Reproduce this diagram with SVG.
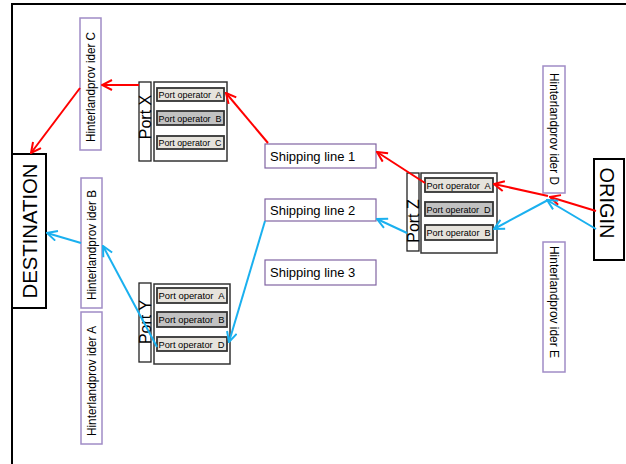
<svg xmlns="http://www.w3.org/2000/svg" width="626" height="464" viewBox="0 0 626 464">
<defs>
<marker id="ar" viewBox="0 0 12 12" refX="11" refY="6" markerWidth="12" markerHeight="12" markerUnits="userSpaceOnUse" orient="auto"><polyline points="1,1 11,6 1,11" fill="none" stroke="#ff0000" stroke-width="2"/></marker>
<marker id="ab" viewBox="0 0 12 12" refX="11" refY="6" markerWidth="12" markerHeight="12" markerUnits="userSpaceOnUse" orient="auto"><polyline points="1,1 11,6 1,11" fill="none" stroke="#1ab0ef" stroke-width="2"/></marker>
</defs>
<style>
text{font-family:"Liberation Sans",Arial,sans-serif;fill:#000}
.hp{fill:#fff;stroke:#a08cc6;stroke-width:1.5}
.ht{font-size:12px}
.sl{fill:#fff;stroke:#8064a2;stroke-width:1.2}
.st{font-size:13px}
.pn{fill:#fff;stroke:#222;stroke-width:1.3}
.pw{fill:#fff;stroke:#333;stroke-width:1.5}
.ol{fill:#e6e3dc;stroke:#333;stroke-width:1.8}
.od{fill:#c2c2c2;stroke:#333;stroke-width:1.8}
.ot{font-size:9.5px;white-space:pre}
.pt{font-size:16px}
.end{fill:#fff;stroke:#000;stroke-width:2}
.r{stroke:#ff0000;stroke-width:2;fill:none;marker-end:url(#ar)}
.b{stroke:#1ab0ef;stroke-width:2;fill:none;marker-end:url(#ab)}
</style>
<rect width="626" height="464" fill="#fff"/>
<path d="M12,464 V4 H626" fill="none" stroke="#000" stroke-width="2"/>

<g id="destination"><rect class="end" x="12" y="154" width="34" height="154"/><text transform="translate(30,231) rotate(-90)" text-anchor="middle" dominant-baseline="central" font-size="20" textLength="135" lengthAdjust="spacingAndGlyphs">DESTINATION</text></g>
<g id="origin"><rect class="end" x="594" y="159" width="30" height="101"/><text transform="translate(607,203) rotate(90)" text-anchor="middle" dominant-baseline="central" font-size="20">ORIGIN</text></g>

<g id="hinterland-c"><rect class="hp" x="80" y="18" width="21" height="132"/><text class="ht" transform="translate(91,87) rotate(-90)" text-anchor="middle" dominant-baseline="central" textLength="110" lengthAdjust="spacingAndGlyphs">Hinterlandprov ider C</text></g>
<g id="hinterland-b"><rect class="hp" x="81" y="178" width="21" height="130"/><text class="ht" transform="translate(92,245) rotate(-90)" text-anchor="middle" dominant-baseline="central" textLength="110" lengthAdjust="spacingAndGlyphs">Hinterlandprov ider B</text></g>
<g id="hinterland-a"><rect class="hp" x="81" y="312" width="21" height="132"/><text class="ht" transform="translate(92,381) rotate(-90)" text-anchor="middle" dominant-baseline="central" textLength="110" lengthAdjust="spacingAndGlyphs">Hinterlandprov ider A</text></g>
<g id="hinterland-d"><rect class="hp" x="543" y="66" width="22" height="127"/><text class="ht" transform="translate(554,129) rotate(90)" text-anchor="middle" dominant-baseline="central" textLength="112" lengthAdjust="spacingAndGlyphs">Hinterlandprov ider D</text></g>
<g id="hinterland-e"><rect class="hp" x="543" y="242" width="22" height="130"/><text class="ht" transform="translate(554,302) rotate(90)" text-anchor="middle" dominant-baseline="central" textLength="112" lengthAdjust="spacingAndGlyphs">Hinterlandprov ider E</text></g>

<g id="shipping-line-1"><rect class="sl" x="265" y="144" width="111" height="24"/><text class="st" x="270" y="161">Shipping line 1</text></g>
<g id="shipping-line-2"><rect class="sl" x="265" y="199" width="111" height="22"/><text class="st" x="270" y="215">Shipping line 2</text></g>
<g id="shipping-line-3"><rect class="sl" x="265" y="260" width="111" height="25"/><text class="st" x="270" y="277">Shipping line 3</text></g>

<g id="port-x">
<rect class="pn" x="139" y="82" width="12" height="79"/>
<rect class="pw" x="154" y="82" width="73" height="79"/>
<text class="pt" transform="translate(145,117) rotate(-90)" text-anchor="middle" dominant-baseline="central">Port X</text>
<rect class="ol" x="157" y="88" width="67" height="13"/><text class="ot" x="158.5" y="97.5" textLength="63" lengthAdjust="spacingAndGlyphs">Port operator  A</text>
<rect class="od" x="157" y="111" width="67" height="14"/><text class="ot" x="158.5" y="121.5" textLength="63" lengthAdjust="spacingAndGlyphs">Port operator  B</text>
<rect class="ol" x="157" y="136" width="67" height="13"/><text class="ot" x="158.5" y="145.5" textLength="63" lengthAdjust="spacingAndGlyphs">Port operator  C</text>
</g>
<g id="port-y">
<rect class="pn" x="139" y="283" width="12" height="79"/>
<rect class="pw" x="154" y="284" width="76" height="80"/>
<text class="pt" transform="translate(145,322) rotate(-90)" text-anchor="middle" dominant-baseline="central">Port Y</text>
<rect class="ol" x="157" y="288" width="70" height="15"/><text class="ot" x="158.5" y="299" textLength="66" lengthAdjust="spacingAndGlyphs">Port operator  A</text>
<rect class="od" x="157" y="312" width="70" height="15"/><text class="ot" x="158.5" y="323" textLength="66" lengthAdjust="spacingAndGlyphs">Port operator  B</text>
<rect class="ol" x="157" y="337" width="70" height="14"/><text class="ot" x="158.5" y="347.5" textLength="66" lengthAdjust="spacingAndGlyphs">Port operator  D</text>
</g>
<g id="port-z">
<rect class="pn" x="407" y="173" width="12" height="78"/>
<rect class="pw" x="421" y="173" width="76" height="80"/>
<text class="pt" transform="translate(413,221) rotate(-90)" text-anchor="middle" dominant-baseline="central">Port Z</text>
<rect class="ol" x="425" y="178" width="68" height="14"/><text class="ot" x="426.5" y="188.5" textLength="64" lengthAdjust="spacingAndGlyphs">Port operator  A</text>
<rect class="od" x="425" y="202" width="68" height="14"/><text class="ot" x="426.5" y="212.5" textLength="64" lengthAdjust="spacingAndGlyphs">Port operator  D</text>
<rect class="ol" x="425" y="225" width="68" height="15"/><text class="ot" x="426.5" y="236" textLength="64" lengthAdjust="spacingAndGlyphs">Port operator  B</text>
</g>

<g id="connectors">
<line class="r" x1="596" y1="211" x2="550" y2="197"/>
<line class="r" x1="548" y1="196" x2="494" y2="184"/>
<line class="r" x1="425" y1="183" x2="377" y2="152"/>
<line class="r" x1="268" y1="143" x2="226" y2="93"/>
<line class="r" x1="139" y1="85" x2="102" y2="85"/>
<line class="r" x1="80" y1="88" x2="31" y2="153"/>
<line class="b" x1="596" y1="229" x2="547" y2="200"/>
<line class="b" x1="548" y1="200" x2="494" y2="229"/>
<line class="b" x1="407" y1="233" x2="377" y2="219"/>
<line class="b" x1="265" y1="221" x2="229" y2="342"/>
<line class="b" x1="157" y1="347" x2="103" y2="246"/>
<line class="b" x1="81" y1="243" x2="47" y2="233"/>
</g>
</svg>
